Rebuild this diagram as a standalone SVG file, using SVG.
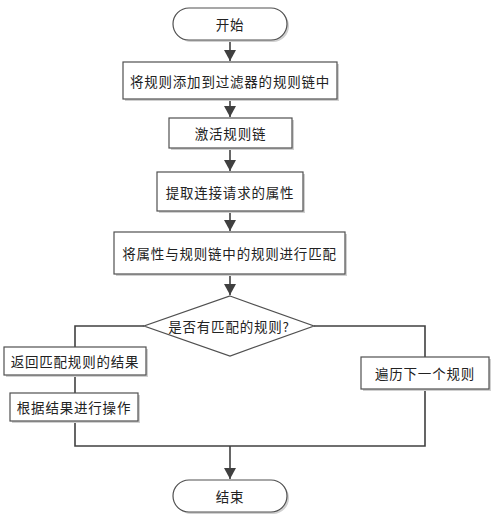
<svg xmlns="http://www.w3.org/2000/svg" width="496" height="517" viewBox="0 0 496 517">
<style>
.sh{fill:#d0d0d0;stroke:none}
.box{fill:#fff;stroke:#505050;stroke-width:1.2}
.line{fill:none;stroke:#404040;stroke-width:1.6}
.t{font-family:"Noto Sans CJK SC","Noto Sans",sans-serif;font-size:13.5px;fill:#222;text-anchor:middle;dominant-baseline:central;letter-spacing:0.8px}
</style>
<defs>
<marker id="ah" markerWidth="12" markerHeight="12" refX="11" refY="6" orient="auto" markerUnits="userSpaceOnUse">
<path d="M0,0 L11,6 L0,12 Z" fill="#404040"/>
</marker>
</defs>
<rect width="496" height="517" fill="#fff"/>
<g id="connectors">
<line class="line" x1="230" y1="40" x2="230" y2="61" marker-end="url(#ah)"/>
<line class="line" x1="230" y1="99" x2="230" y2="117" marker-end="url(#ah)"/>
<line class="line" x1="230" y1="148" x2="230" y2="171" marker-end="url(#ah)"/>
<line class="line" x1="230" y1="211" x2="230" y2="231" marker-end="url(#ah)"/>
<line class="line" x1="230" y1="274" x2="230" y2="295" marker-end="url(#ah)"/>
<polyline class="line" points="144,326 75,326 75,347"/>
<line class="line" x1="75" y1="375" x2="75" y2="393"/>
<polyline class="line" points="75,421 75,446 425,446 425,389"/>
<polyline class="line" points="314,326 425,326 425,357"/>
<line class="line" x1="230" y1="446" x2="230" y2="479" marker-end="url(#ah)"/>
</g>
<g id="start">
<rect class="sh" x="175" y="10" width="114" height="32" rx="16"/>
<rect class="box" x="173" y="8" width="114" height="32" rx="16"/>
<text class="t" x="230" y="24">开始</text>
</g>
<g id="n1">
<rect class="sh" x="125" y="64" width="214" height="37"/>
<rect class="box" x="123" y="62" width="214" height="37"/>
<text class="t" x="230" y="80.5">将规则添加到过滤器的规则链中</text>
</g>
<g id="n2">
<rect class="sh" x="171" y="120" width="123" height="30"/>
<rect class="box" x="169" y="118" width="123" height="30"/>
<text class="t" x="230.5" y="133">激活规则链</text>
</g>
<g id="n3">
<rect class="sh" x="159" y="174" width="146" height="39"/>
<rect class="box" x="157" y="172" width="146" height="39"/>
<text class="t" x="230" y="191.5">提取连接请求的属性</text>
</g>
<g id="n4">
<rect class="sh" x="116" y="234" width="231" height="42"/>
<rect class="box" x="114" y="232" width="231" height="42"/>
<text class="t" x="229.5" y="253">将属性与规则链中的规则进行匹配</text>
</g>
<g id="decision">
<polygon class="box" points="230,296 314,326 230,356 144,326"/>
<text class="t" x="229" y="326">是否有匹配的规则?</text>
</g>
<g id="n5">
<rect class="sh" x="6" y="349" width="142" height="28"/>
<rect class="box" x="4" y="347" width="142" height="28"/>
<text class="t" x="75" y="361">返回匹配规则的结果</text>
</g>
<g id="n6">
<rect class="sh" x="12" y="395" width="128" height="28"/>
<rect class="box" x="10" y="393" width="128" height="28"/>
<text class="t" x="74" y="407">根据结果进行操作</text>
</g>
<g id="n7">
<rect class="sh" x="363" y="359" width="128" height="32"/>
<rect class="box" x="361" y="357" width="128" height="32"/>
<text class="t" x="425" y="373">遍历下一个规则</text>
</g>
<g id="end">
<rect class="sh" x="175" y="482" width="114" height="32" rx="16"/>
<rect class="box" x="173" y="480" width="114" height="32" rx="16"/>
<text class="t" x="230" y="496">结束</text>
</g>
</svg>
